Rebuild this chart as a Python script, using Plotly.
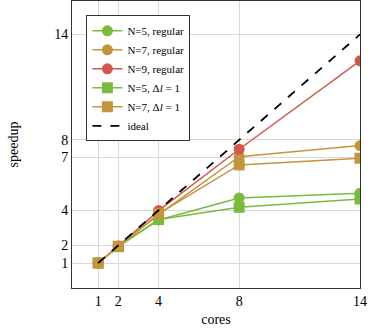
import plotly.graph_objects as go

cores = [1, 2, 4, 8, 14]

n5_regular = [1, 1.95, 3.45, 4.7, 4.97]
n7_regular = [1, 1.95, 3.75, 7.05, 7.68]
n9_regular = [1, 1.97, 3.98, 7.47, 12.5]
n5_dl1 = [1, 1.93, 3.47, 4.17, 4.64]
n7_dl1 = [1, 1.95, 3.8, 6.58, 6.96]
ideal = [1, 2, 4, 8, 14]

x_ticks = [1, 2, 4, 8, 14]
y_ticks = [1, 2, 4, 7, 8, 14]

green = "#7cba3f"
tan = "#c4943f"
red = "#d0584c"

series = [
    ("N=5, regular", n5_regular, green, "circle"),
    ("N=7, regular", n7_regular, tan, "circle"),
    ("N=9, regular", n9_regular, red, "circle"),
    ("N=5, Δ<i>l</i> = 1", n5_dl1, green, "square"),
    ("N=7, Δ<i>l</i> = 1", n7_dl1, tan, "square"),
]

fig = go.Figure()

for name, vals, color, symbol in series:
    fig.add_trace(go.Scatter(
        x=cores, y=vals, name=name, mode="lines+markers",
        line=dict(color=color, width=1.5),
        marker=dict(color=color, symbol=symbol, size=11, line=dict(width=0)),
    ))

fig.add_trace(go.Scatter(
    x=cores, y=ideal, name="ideal", mode="lines",
    line=dict(color="black", width=1.8, dash="dash"),
))

axis_style = dict(
    showline=True, linecolor="#333333", linewidth=1, mirror=True,
    showgrid=True, gridcolor="#d9d9d9", gridwidth=1,
    zeroline=False, ticks="", tickfont=dict(size=14, color="black"),
)

fig.update_xaxes(range=[-0.3, 14], tickvals=x_ticks,
                 title=dict(text="cores", font=dict(size=14), standoff=6),
                 **axis_style)
fig.update_yaxes(range=[-0.42, 15.9], tickvals=y_ticks,
                 title=dict(text="speedup", font=dict(size=14), standoff=32),
                 **axis_style)

fig.update_layout(
    width=374, height=333,
    margin=dict(l=72, r=14, t=1, b=45),
    paper_bgcolor="white", plot_bgcolor="white",
    font=dict(family='"Liberation Serif", "DejaVu Serif", serif', color="black"),
    legend=dict(
        x=0.05, y=0.95, xanchor="left", yanchor="top",
        bgcolor="white", bordercolor="#333333", borderwidth=1,
        font=dict(size=11), tracegroupgap=0, itemwidth=30,
    ),
)

fig.write_html("out.html", config={"displayModeBar": False},
               post_script="document.body.style.margin='0';")
